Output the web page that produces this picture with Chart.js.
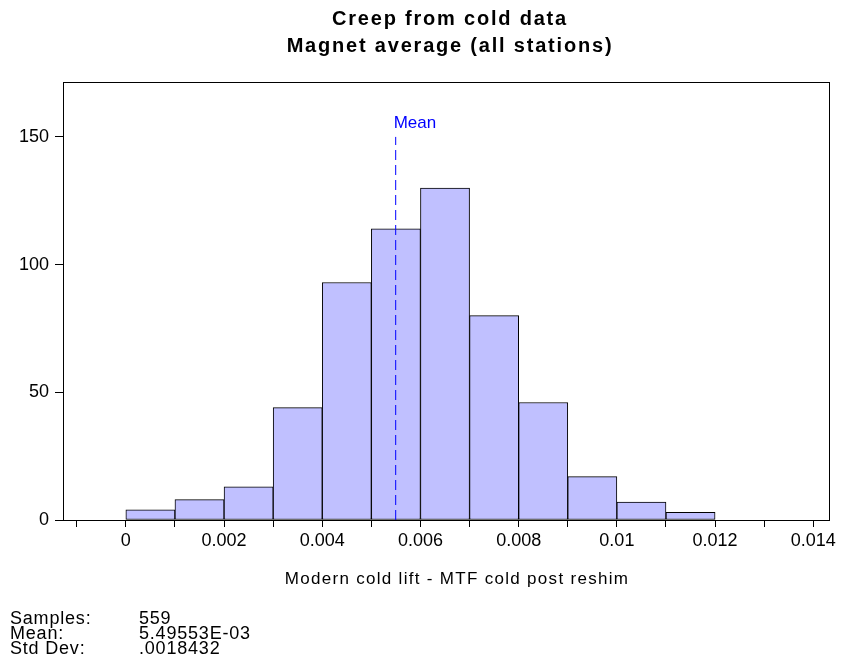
<!DOCTYPE html>
<html>
<head>
<meta charset="utf-8">
<script src="https://cdn.jsdelivr.net/npm/chart.js@4.4.1/dist/chart.umd.min.js"></script>
<style>
  body { margin: 0; background: #fff; font-family: Arial, "Liberation Sans", sans-serif; }
  #wrap { position: relative; width: 841px; height: 665px; overflow: hidden; }
  #wrap canvas { position: absolute; left: 0; top: 0; }
  .txt { position: absolute; color: #000; white-space: pre; }
  #title { left: 0; width: 900px; top: 5px; text-align: center; font-weight: bold; font-size: 20px; line-height: 27px; letter-spacing: 1.8px; }
  #xtitle { left: 0; width: 914px; top: 569px; text-align: center; font-size: 17px; letter-spacing: 1.3px; }
  #stats { left: 10px; top: 611px; font-size: 18px; line-height: 15px; letter-spacing: 0.8px; }
  #stats span { display: inline-block; width: 129px; }
</style>
</head>
<body>
<div id="wrap">
  <canvas id="histChart" width="841" height="665"></canvas>
  <div id="title" class="txt">Creep from cold data
Magnet average (all stations)</div>
  <div id="xtitle" class="txt">Modern cold lift - MTF cold post reshim</div>
  <div id="stats" class="txt"><span>Samples:</span>559
<span>Mean:</span>5.49553E-03
<span>Std Dev:</span>.0018432</div>
</div>
<script>
// --- histogram data ---
const binStarts = [0, 0.001, 0.002, 0.003, 0.004, 0.005, 0.006, 0.007, 0.008, 0.009, 0.010, 0.011];
const binWidth = 0.001;
const counts = [4, 8, 13, 44, 93, 114, 130, 80, 46, 17, 7, 3];
const meanValue = 5.49553e-3;
const meanTop = 150;
const xTicks = [-0.001, 0, 0.001, 0.002, 0.003, 0.004, 0.005, 0.006, 0.007, 0.008, 0.009, 0.010, 0.011, 0.012, 0.013, 0.014];
const yTicks = [0, 50, 100, 150];

const fontFamily = 'Arial, "Liberation Sans", sans-serif';

// frame around the plot + "Mean" label
const framePlugin = {
    id: 'frame',
    beforeInit(chart) {
        chart.ctx.letterSpacing = '1px';
    },
    afterDraw(chart) {
        const { ctx, chartArea: a, scales } = chart;
        ctx.save();
        ctx.strokeStyle = '#000';
        ctx.lineWidth = 1;
        ctx.strokeRect(Math.round(a.left) + 0.5, Math.round(a.top) + 0.5,
            Math.round(a.right - a.left), Math.round(a.bottom - a.top));

        ctx.fillStyle = '#0000ff';
        ctx.font = '17px ' + fontFamily;
        ctx.textAlign = 'left';
        ctx.textBaseline = 'alphabetic';
        ctx.fillText('Mean', scales.x.getPixelForValue(meanValue) - 2, scales.y.getPixelForValue(meanTop) - 9);
        ctx.restore();
    }
};

const ctx = document.getElementById('histChart').getContext('2d');

new Chart(ctx, {
    type: 'bar',
    data: {
        datasets: [
            {
                type: 'line',
                label: 'Mean',
                data: [{ x: meanValue, y: 0 }, { x: meanValue, y: meanTop }],
                borderColor: '#0000ff',
                borderWidth: 1,
                borderDash: [10, 5],
                pointRadius: 0,
                fill: false,
                order: 0
            },
            {
                label: 'Count',
                data: binStarts.map((s, i) => ({ x: s + binWidth / 2, y: counts[i] })),
                backgroundColor: '#c0c0ff',
                borderColor: '#000',
                borderWidth: 1,
                borderSkipped: false,
                barPercentage: 1,
                categoryPercentage: 1,
                order: 1
            }
        ]
    },
    options: {
        responsive: false,
        animation: false,
        events: [],
        layout: { padding: { top: 82, right: 12, left: 0, bottom: 0 } },
        plugins: {
            legend: { display: false },
            tooltip: { enabled: false }
        },
        scales: {
            x: {
                type: 'linear',
                min: -0.00128,
                max: 0.01432,
                offset: false,
                afterBuildTicks: s => { s.ticks = xTicks.map(v => ({ value: v })); },
                afterFit: s => { s.height = 145; },
                grid: { display: true, offset: false, drawOnChartArea: false, drawTicks: true, tickLength: 7, color: '#000' },
                border: { display: true, color: '#000' },
                ticks: {
                    color: '#000',
                    font: { size: 18, family: fontFamily },
                    padding: 3,
                    autoSkip: false,
                    maxRotation: 0,
                    callback: v => (Math.round(v * 1000) % 2 !== 0 ? '' : String(+v.toFixed(3)))
                }
            },
            y: {
                min: 0,
                max: 171.5,
                afterBuildTicks: s => { s.ticks = yTicks.map(v => ({ value: v })); },
                afterFit: s => { s.width = 63; },
                grid: { display: true, drawOnChartArea: false, drawTicks: true, tickLength: 8, color: '#000' },
                border: { display: true, color: '#000' },
                ticks: {
                    color: '#000',
                    font: { size: 18, family: fontFamily },
                    padding: 6
                }
            }
        }
    },
    plugins: [framePlugin]
});
</script>
</body>
</html>
